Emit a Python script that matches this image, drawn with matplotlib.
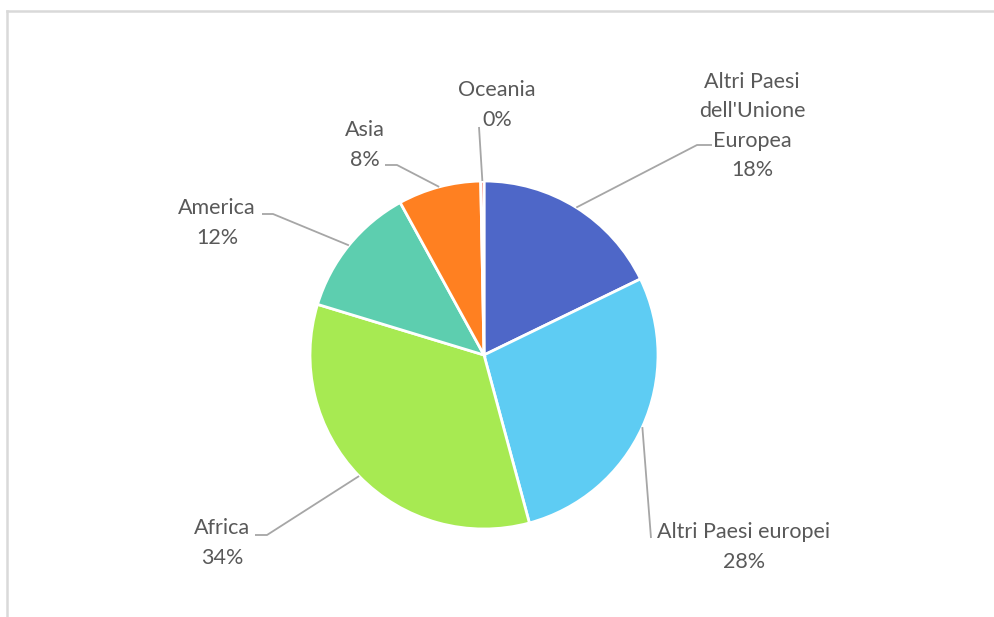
import numpy as np
import matplotlib
matplotlib.use("Agg")
import matplotlib.pyplot as plt
from matplotlib.lines import Line2D

categories = ["Altri Paesi\ndell'Unione\nEuropea", "Altri Paesi europei", "Africa", "America", "Asia", "Oceania"]
values = [17.8, 28.0, 33.9, 12.3, 7.7, 0.3]
colors = ["#4E67C8", "#5ECCF3", "#A7EA52", "#5DCEAF", "#FF8021", "#E8402A"]

W, H = 994, 617
fig = plt.figure(figsize=(W / 100, H / 100), dpi=100)
ax = fig.add_axes([0, 0, 1, 1])

cx, cy, R = 484, H - 355, 174
wedges, _ = ax.pie(values, colors=colors, startangle=90, counterclock=False,
                   center=(cx, cy), radius=R, frame=True,
                   wedgeprops=dict(edgecolor="white", linewidth=2))
ax.set_xlim(0, W)
ax.set_ylim(0, H)
ax.set_aspect("auto")
ax.axis("off")

# label layout (pixel coords from top-left): text center, leader bend, leader end
text_pos = [(752, 126), (744, 547), (222, 543), (217, 223), (365, 145), (497, 105)]
bends = [(697, 145), None, (267, 535), (273, 214), (397, 165), None]
ends = [(712, 145), (651, 538), (255, 535), (262, 214), (385, 165), (479, 127)]

total = sum(values)
pct = [v / total * 100 for v in values]
font = dict(family=["Lato", "DejaVu Sans"], size=15.5, color="#595959")
lc = "#A6A6A6"
for w, lab, p, tp, b, e in zip(wedges, categories, pct, text_pos, bends, ends):
    mid = np.deg2rad((w.theta1 + w.theta2) / 2)
    sx, sy = cx + R * np.cos(mid), cy + R * np.sin(mid)
    xs = [sx]
    ys = [sy]
    if b is not None:
        xs.append(b[0]); ys.append(H - b[1])
    xs.append(e[0]); ys.append(H - e[1])
    ax.plot(xs, ys, color=lc, linewidth=1.3, solid_capstyle="butt", zorder=3)
    ax.text(tp[0], H - tp[1], f"{lab}\n{p:.0f}%", ha="center", va="center",
            multialignment="center", linespacing=1.6, **font)

# chart border (top & left visible)
fig.add_artist(Line2D([7 / W, 1], [1 - 11 / H, 1 - 11 / H], color="#D9D9D9", linewidth=1.8, transform=fig.transFigure))
fig.add_artist(Line2D([7 / W, 7 / W], [0, 1 - 11 / H], color="#D9D9D9", linewidth=1.8, transform=fig.transFigure))

fig.savefig("out.png", dpi=100, facecolor="white")
